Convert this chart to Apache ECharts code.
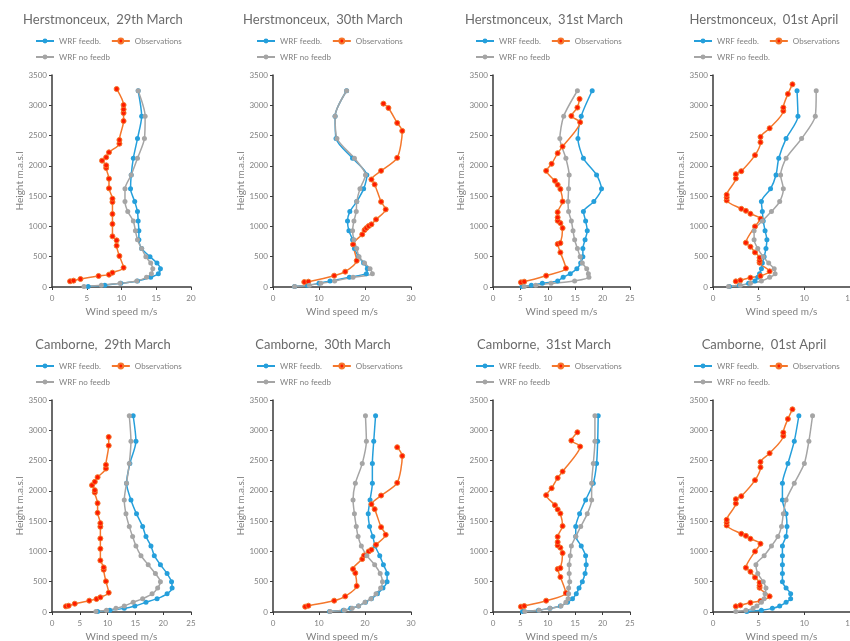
<!DOCTYPE html>
<html><head><meta charset="utf-8">
<script src="https://cdn.jsdelivr.net/npm/echarts@6/dist/echarts.min.js"></script>
<style>html,body{margin:0;padding:0;background:#fff}#c{width:850px;height:641px}</style>
</head><body><div id="c"></div>
<script>
// WRF model level heights (m)
const wrfHeights = [10, 30, 60, 100, 160, 220, 300, 395, 500, 635, 780, 930, 1090, 1245, 1410, 1620, 1850, 2125, 2450, 2820, 3240];

// Herstmonceux 29th March
const h29Feed   = [5.2, 7.6, 9.9, 12.3, 14.2, 15.3, 15.6, 15.1, 14.1, 12.9, 12.5, 12.5, 12.4, 12.3, 11.9, 11.3, 11.4, 11.7, 12.3, 12.9, 12.4];
const h29NoFeed = [4.6, 7.1, 9.8, 12.2, 13.6, 14.3, 14.5, 14.2, 13.5, 12.9, 12.3, 12.0, 11.7, 10.9, 10.5, 10.5, 11.4, 12.3, 13.3, 13.4, 12.4];
const h29ObsH   = [94, 105, 132, 182, 204, 237, 319, 512, 682, 770, 836, 1040, 1205, 1403, 1458, 1629, 1788, 1965, 2008, 2086, 2141, 2223, 2366, 2427, 2740, 2873, 2933, 3005, 3269];
const h29ObsV   = [2.6, 3.1, 4.1, 6.7, 8.2, 8.7, 10.3, 9.7, 9.3, 9.3, 8.7, 8.7, 8.7, 8.7, 8.7, 8.2, 8.2, 7.8, 7.8, 7.2, 7.8, 8.2, 9.7, 9.7, 10.3, 10.3, 10.3, 10.3, 9.3];

// Herstmonceux 30th March
const h30Feed   = [4.7, 7.5, 10.0, 12.4, 16.6, 20.3, 20.5, 19.7, 18.6, 17.7, 17.3, 16.5, 16.2, 16.7, 18.2, 19.7, 20.4, 17.3, 13.7, 13.5, 16.0];
const h30NoFeed = [4.7, 7.9, 10.4, 13.4, 17.4, 21.6, 21.1, 19.9, 18.7, 18.2, 17.6, 17.3, 17.6, 18.1, 18.2, 18.9, 20.1, 17.7, 13.9, 13.5, 16.0];
const h30ObsH   = [82, 88, 187, 253, 434, 703, 868, 940, 973, 1006, 1034, 1116, 1281, 1407, 1693, 1775, 1918, 2132, 2577, 2709, 2956, 3027];
const h30ObsV   = [6.8, 7.7, 13.3, 15.7, 18.2, 17.4, 19.4, 19.9, 20.3, 20.8, 21.4, 22.4, 24.5, 23.5, 22.1, 21.4, 23.5, 27.0, 28.1, 27.0, 25.1, 24.0];

// Herstmonceux 31st March
const h31Feed   = [5.3, 7.0, 9.0, 11.8, 12.8, 14.1, 15.3, 16.0, 16.4, 16.4, 16.8, 17.2, 16.9, 16.5, 18.4, 19.8, 18.9, 16.5, 15.5, 16.1, 18.1];
const h31NoFeed = [5.7, 7.8, 10.6, 14.9, 17.5, 17.4, 17.1, 16.3, 15.9, 15.4, 14.9, 14.6, 14.3, 13.8, 13.7, 13.8, 13.9, 13.3, 12.2, 12.9, 15.4];
const h31ObsH   = [77, 88, 187, 308, 571, 709, 725, 973, 1055, 1094, 1149, 1236, 1412, 1616, 1687, 1753, 1918, 2033, 2209, 2319, 2720, 2824, 2962, 3105];
const h31ObsV   = [5.1, 5.7, 9.7, 13.3, 12.3, 11.8, 12.3, 12.7, 12.3, 11.8, 11.8, 11.8, 12.7, 12.3, 11.8, 11.3, 9.7, 10.7, 11.8, 12.7, 15.9, 14.3, 15.4, 15.8];

// Herstmonceux 01st April
const h01Feed   = [1.8, 2.9, 3.9, 4.6, 4.9, 5.1, 5.3, 5.4, 5.6, 5.8, 5.9, 5.7, 5.5, 5.4, 5.3, 6.3, 6.9, 7.2, 8.0, 9.3, 9.2];
const h01NoFeed = [1.7, 3.0, 4.1, 5.3, 6.2, 6.8, 6.7, 6.1, 5.5, 4.9, 4.5, 4.5, 5.4, 6.4, 7.3, 7.7, 7.4, 8.0, 9.7, 11.2, 11.3];
const h01ObsH   = [93, 110, 154, 181, 258, 401, 434, 484, 571, 665, 731, 1000, 1127, 1209, 1258, 1291, 1429, 1478, 1522, 1791, 1863, 1912, 2176, 2390, 2478, 2621, 2907, 2962, 3187, 3346];
const h01ObsV   = [2.5, 3.0, 4.1, 5.2, 6.2, 5.1, 5.1, 5.1, 4.6, 4.1, 3.6, 4.6, 5.2, 4.1, 3.6, 3.1, 1.5, 1.5, 1.5, 2.5, 2.5, 3.1, 4.6, 5.2, 5.2, 6.2, 7.7, 7.7, 8.2, 8.7];

// Camborne 29th March
const c29Feed   = [8.2, 10.4, 13.0, 14.9, 16.9, 18.9, 20.7, 21.6, 21.5, 20.7, 19.5, 18.4, 17.8, 16.9, 16.3, 15.2, 14.2, 13.4, 14.0, 15.1, 14.6];
const c29NoFeed = [7.9, 9.8, 11.5, 13.0, 14.6, 16.3, 18.0, 19.0, 19.5, 18.6, 17.3, 16.0, 15.1, 14.5, 13.9, 13.3, 13.0, 13.4, 13.9, 14.2, 13.9];
const c29ObsH   = [93, 104, 137, 187, 214, 242, 319, 506, 698, 736, 852, 1044, 1214, 1407, 1467, 1637, 1797, 1973, 2011, 2094, 2149, 2226, 2368, 2429, 2747, 2890];
const c29ObsV   = [2.5, 3.0, 4.1, 6.7, 8.0, 8.7, 10.2, 9.7, 9.3, 9.3, 8.7, 8.7, 8.7, 8.7, 8.7, 8.2, 8.2, 7.7, 7.7, 7.2, 7.7, 8.2, 9.7, 9.7, 10.2, 10.2];

// Camborne 30th March
const c30Feed   = [12.3, 15.3, 16.9, 18.6, 20.1, 21.4, 22.7, 23.9, 24.8, 24.8, 24.0, 23.2, 22.2, 21.7, 21.0, 20.7, 21.1, 21.6, 21.6, 21.9, 22.3];
const c30NoFeed = [12.4, 15.5, 17.2, 18.6, 20.0, 21.3, 22.4, 23.4, 23.8, 23.3, 22.1, 20.4, 19.2, 18.5, 18.1, 17.7, 17.4, 17.9, 19.4, 20.3, 20.1];
const c30ObsH   = [88, 104, 187, 258, 429, 643, 709, 874, 934, 1000, 1028, 1110, 1275, 1401, 1698, 1780, 1923, 2132, 2577, 2720];
const c30ObsV   = [7.0, 7.7, 13.3, 15.7, 18.2, 17.9, 17.4, 19.4, 19.8, 20.8, 21.4, 22.4, 24.5, 23.5, 22.1, 21.4, 23.5, 27.0, 28.1, 27.0];

// Camborne 31st March
const c31Feed   = [5.4, 8.3, 10.4, 12.3, 13.6, 14.5, 15.2, 15.7, 16.3, 16.8, 17.0, 16.9, 16.1, 15.1, 15.1, 15.8, 16.9, 18.3, 18.9, 19.1, 19.2];
const c31NoFeed = [5.8, 8.4, 10.4, 12.4, 13.3, 13.7, 13.8, 13.8, 14.0, 13.9, 13.9, 14.1, 14.3, 15.1, 16.0, 17.2, 18.0, 18.0, 18.3, 18.6, 18.6];
const c31ObsH   = [88, 99, 187, 313, 577, 709, 725, 973, 1061, 1099, 1154, 1242, 1418, 1627, 1693, 1764, 1929, 2044, 2214, 2319, 2731, 2830, 2967];
const c31ObsV   = [5.1, 5.7, 9.7, 13.3, 12.3, 11.8, 12.3, 12.7, 12.3, 11.8, 11.8, 11.8, 12.7, 12.3, 11.8, 11.3, 9.7, 10.7, 11.8, 12.7, 15.9, 14.3, 15.4];

// Camborne 01st April
const c01Feed   = [3.7, 5.3, 6.5, 7.3, 8.0, 8.5, 8.5, 8.0, 7.6, 7.6, 7.6, 7.6, 7.6, 8.0, 8.1, 8.0, 7.6, 7.6, 8.2, 8.9, 9.4];
const c01NoFeed = [2.5, 3.6, 4.4, 4.8, 5.3, 5.6, 5.7, 5.8, 5.5, 4.9, 4.7, 5.6, 6.4, 7.1, 7.5, 7.7, 8.0, 8.9, 10.0, 10.5, 10.9];
const c01ObsH   = [93, 110, 154, 181, 258, 401, 434, 484, 571, 665, 731, 1000, 1127, 1209, 1258, 1291, 1429, 1478, 1522, 1791, 1863, 1912, 2176, 2390, 2478, 2621, 2907, 2962, 3187, 3346];
const c01ObsV   = [2.5, 3.0, 4.1, 5.2, 6.2, 5.1, 5.1, 5.1, 4.6, 4.1, 3.6, 4.6, 5.2, 4.1, 3.6, 3.1, 1.5, 1.5, 1.5, 2.5, 2.5, 3.1, 4.6, 5.2, 5.2, 6.2, 7.7, 7.7, 8.2, 8.7];

const titles = ['Herstmonceux,  29th March', 'Herstmonceux,  30th March', 'Herstmonceux,  31st March', 'Herstmonceux,  01st April',
                'Camborne,  29th March', 'Camborne,  30th March', 'Camborne,  31st March', 'Camborne,  01st April'];
const xMaxes = [20, 30, 25, 15, 25, 30, 25, 15];
const xIntervals = [5, 10, 5, 5, 5, 10, 5, 5];
const noFeedNames = ['WRF no feedb', 'WRF no feedb', 'WRF no feedb', 'WRF no feedb.', 'WRF no feedb', 'WRF no feedb', 'WRF no feedb', 'WRF no feedb.'];

const panels = [
  [h29Feed, h29NoFeed, h29ObsH, h29ObsV], [h30Feed, h30NoFeed, h30ObsH, h30ObsV],
  [h31Feed, h31NoFeed, h31ObsH, h31ObsV], [h01Feed, h01NoFeed, h01ObsH, h01ObsV],
  [c29Feed, c29NoFeed, c29ObsH, c29ObsV], [c30Feed, c30NoFeed, c30ObsH, c30ObsV],
  [c31Feed, c31NoFeed, c31ObsH, c31ObsV], [c01Feed, c01NoFeed, c01ObsH, c01ObsV]
];

const BLUE = '#259FDB', ORANGE = '#F4772C', RED = '#FF1A00', GRAY = '#A5A5A5';
const AXIS = '#3a3a3a', TXT = '#808080';
const FONT = 'Lato';

const colLeft = [52, 273, 493, 713];
const colWidth = [139, 138, 137, 137];
const rowTop = [75, 400];
const gridH = 212;
const titleX = [103, 323, 544, 764];
const titleY = [20, 345];
const legendX = [35, 256, 475, 693];
const legendY = [42, 367];

function zip(xs, ys) { return xs.map((x, i) => [x, ys[i]]); }

const grid = [], xAxis = [], yAxis = [], series = [], title = [], legend = [];
panels.forEach((p, i) => {
  const col = i % 4, row = Math.floor(i / 4);
  grid.push({ left: colLeft[col], top: rowTop[row], width: colWidth[col], height: gridH, containLabel: false, outerBoundsMode: 'none' });
  title.push({ text: titles[i], left: titleX[col], top: titleY[row], textAlign: 'center', textVerticalAlign: 'middle', padding: 0,
    textStyle: { fontFamily: FONT, fontSize: 13, fontWeight: 'normal', color: '#6a6a6a' } });
  const legText = { fontFamily: FONT, fontSize: 8, color: TXT };
  legend.push({ data: ['WRF feedb.', 'Observations'], left: legendX[col], top: legendY[row] - 5, padding: 0, itemWidth: 18, itemHeight: 6, itemGap: 10, textStyle: legText, selectedMode: false });
  legend.push({ data: [noFeedNames[i]], left: legendX[col], top: legendY[row] + 11, padding: 0, itemWidth: 18, itemHeight: 6, itemGap: 10, textStyle: legText, selectedMode: false });
  xAxis.push({ type: 'value', gridIndex: i, min: 0, max: xMaxes[i], interval: xIntervals[i],
    splitLine: { show: false },
    axisLine: { show: true, onZero: false, lineStyle: { color: AXIS, width: 1.5 } },
    axisTick: { show: true, length: 3, lineStyle: { color: AXIS } },
    axisLabel: { fontFamily: FONT, fontSize: 8, color: TXT, margin: 7, hideOverlap: false },
    name: 'Wind speed m/s', nameLocation: 'middle', nameGap: 20,
    nameTextStyle: { fontFamily: FONT, fontSize: 10, color: TXT } });
  yAxis.push({ type: 'value', gridIndex: i, min: 0, max: 3500, interval: 500,
    splitLine: { show: false },
    axisLine: { show: true, onZero: false, lineStyle: { color: AXIS, width: 1.5 } },
    axisTick: { show: true, length: 3, lineStyle: { color: AXIS } },
    axisLabel: { fontFamily: FONT, fontSize: 8, color: TXT, margin: 5, formatter: v => String(v) },
    name: 'Height m.a.s.l', nameLocation: 'middle', nameGap: 27,
    nameTextStyle: { fontFamily: FONT, fontSize: 10, color: TXT } });
  const common = { type: 'line', xAxisIndex: i, yAxisIndex: i, smooth: 0.25, symbol: 'circle', animation: false };
  series.push(Object.assign({}, common, { name: 'WRF feedb.', data: zip(p[0], wrfHeights), symbolSize: 5,
    lineStyle: { color: BLUE, width: 1.5 }, itemStyle: { color: BLUE } }));
  series.push(Object.assign({}, common, { name: 'Observations', data: zip(p[3], p[2]), symbolSize: 5,
    lineStyle: { color: ORANGE, width: 1.5 }, itemStyle: { color: RED, borderColor: ORANGE, borderWidth: 1 } }));
  series.push(Object.assign({}, common, { name: noFeedNames[i], data: zip(p[1], wrfHeights), symbolSize: 5,
    lineStyle: { color: GRAY, width: 1.5 }, itemStyle: { color: GRAY } }));
});

const chart = echarts.init(document.getElementById('c'));
chart.setOption({ backgroundColor: '#fff', animation: false, grid, xAxis, yAxis, series, title, legend });
</script></body></html>
